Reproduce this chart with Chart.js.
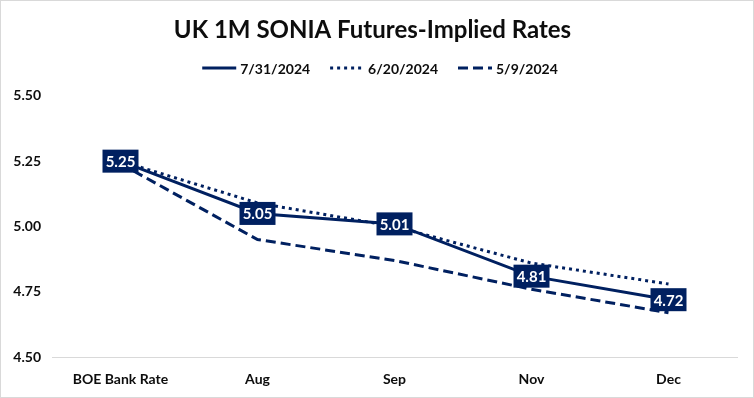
<!DOCTYPE html>
<html>
<head>
<meta charset="utf-8">
<script src="https://cdn.jsdelivr.net/npm/chart.js@4.4.1/dist/chart.umd.min.js"></script>
<style>
  html, body { margin: 0; padding: 0; background: #fff; }
  #wrap { width: 754px; height: 398px; position: relative; }
</style>
</head>
<body>
<div id="wrap"><canvas id="sonia"></canvas></div>
<script>
const navy = '#002060';

const categories = ["BOE Bank Rate", "Aug", "Sep", "Nov", "Dec"];
const jul31 = [5.25, 5.05, 5.01, 4.81, 4.72];
const jun20 = [5.25, 5.09, 5.00, 4.86, 4.78];
const may9 = [5.24, 4.95, 4.87, 4.76, 4.67];

// boxed value labels on the latest curve
const boxLabels = {
    id: 'boxLabels',
    afterDatasetsDraw(chart) {
        const ctx = chart.ctx;
        const meta = chart.getDatasetMeta(0);
        ctx.save();
        ctx.font = 'bold 15px Lato';
        ctx.textAlign = 'center';
        ctx.textBaseline = 'middle';
        meta.data.forEach((pt, i) => {
            const w = 36, h = 23;
            ctx.fillStyle = navy;
            ctx.fillRect(pt.x - w / 2, pt.y - h / 2, w, h);
            ctx.fillStyle = '#fff';
            ctx.fillText(jul31[i].toFixed(2), pt.x, pt.y + 1);
        });
        ctx.restore();
    }
};

// legend drawn by hand so the dash patterns show
const lineLegend = {
    id: 'lineLegend',
    afterDraw(chart) {
        const ctx = chart.ctx;
        const sets = chart.data.datasets;
        const sample = 34, gap = 4, spacing = 20;
        ctx.save();
        ctx.font = 'bold 14px Lato';
        ctx.textBaseline = 'middle';
        const widths = sets.map(ds => sample + gap + ctx.measureText(ds.label).width);
        const total = widths.reduce((a, b) => a + b, 0) + spacing * (sets.length - 1);
        let x = 380 - total / 2;
        const y = 68;
        sets.forEach((ds, i) => {
            ctx.strokeStyle = ds.borderColor;
            ctx.lineWidth = ds.borderWidth;
            ctx.setLineDash(ds.borderDash || []);
            ctx.beginPath();
            ctx.moveTo(x, y);
            ctx.lineTo(x + sample, y);
            ctx.stroke();
            ctx.setLineDash([]);
            ctx.fillStyle = '#0d0d0d';
            ctx.fillText(ds.label, x + sample + gap, y + 1);
            x += widths[i] + spacing;
        });
        ctx.restore();
    }
};

const frame = {
    id: 'frame',
    beforeDraw(chart) {
        const ctx = chart.ctx;
        ctx.save();
        ctx.fillStyle = '#fff';
        ctx.fillRect(0, 0, chart.width, chart.height);
        ctx.strokeStyle = '#d9d9d9';
        ctx.lineWidth = 1;
        ctx.strokeRect(0.5, 0.5, chart.width - 1, chart.height - 1);
        ctx.restore();
    }
};

let sonia = new Chart(document.getElementById("sonia").getContext("2d"), {
    type: 'line',
    data: {
        labels: categories,
        datasets: [{
                label: "7/31/2024",
                borderColor: navy,
                borderWidth: 3,
                pointRadius: 0,
                data: jul31
            },
            {
                label: "6/20/2024",
                borderColor: navy,
                borderWidth: 3,
                borderDash: [3, 4],
                pointRadius: 0,
                data: jun20
            },
            {
                label: "5/9/2024",
                borderColor: navy,
                borderWidth: 3,
                borderDash: [10, 5],
                pointRadius: 0,
                data: may9
            }
        ]
    },
    plugins: [frame, boxLabels, lineLegend],
    options: {
        responsive: true,
        maintainAspectRatio: false,
        animation: false,
        layout: {
            padding: { left: 8, right: 17, top: 0, bottom: 4 }
        },
        plugins: {
            title: {
                display: true,
                text: 'UK 1M SONIA Futures-Implied Rates',
                color: '#0d0d0d',
                font: { family: 'Lato', size: 24, weight: 'bold' },
                padding: { top: 16, bottom: 51 }
            },
            legend: { display: false },
            tooltip: { enabled: false }
        },
        scales: {
            x: {
                offset: true,
                grid: { display: false },
                border: { display: true, color: '#d9d9d9', width: 1 },
                ticks: {
                    color: '#0d0d0d',
                    font: { family: 'Lato', size: 14, weight: 'bold' },
                    padding: 6
                }
            },
            y: {
                min: 4.5,
                max: 5.5,
                grid: { display: false },
                border: { display: false },
                ticks: {
                    stepSize: 0.25,
                    color: '#0d0d0d',
                    font: { family: 'Lato', size: 14, weight: 'bold' },
                    callback: v => v.toFixed(2)
                },
                afterFit(scale) { scale.width = 44; }
            }
        }
    }
});
</script>
</body>
</html>
